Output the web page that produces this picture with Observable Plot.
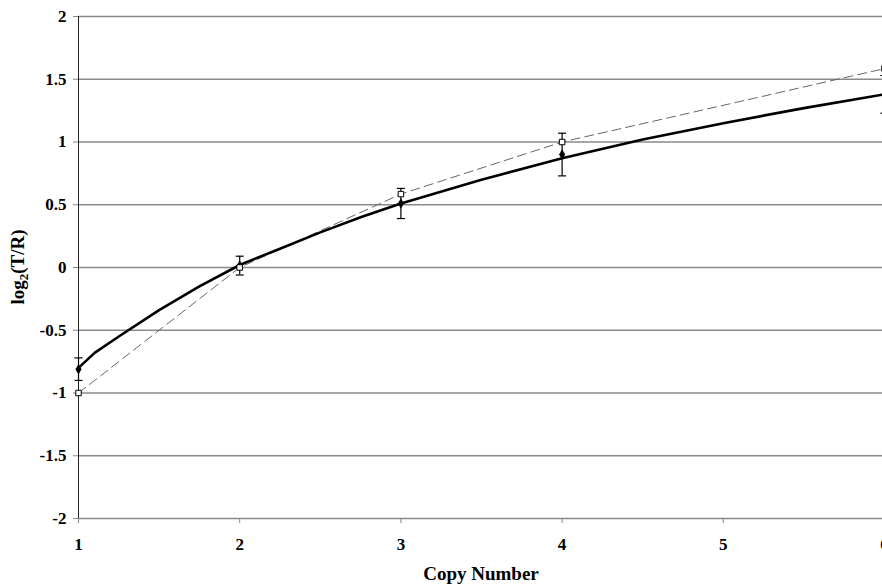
<!DOCTYPE html>
<html><head><meta charset="utf-8">
<script src="https://cdn.jsdelivr.net/npm/d3@7"></script>
<script src="https://cdn.jsdelivr.net/npm/@observablehq/plot@0.6"></script>
<style>
html,body{margin:0;padding:0;background:#fff;overflow:hidden}
svg{overflow:hidden}
</style>
</head><body><div id="chart"></div>
<script>
// Measured copy numbers
const copyNumbers = [1, 2, 3, 4, 6];
// Measured log2(T/R) (filled diamonds) and their error (± half-range)
const measured = [-0.81, 0.015, 0.51, 0.90, 1.38];
const measuredErr = [0.09, 0.075, 0.12, 0.17, 0.15];
// Theoretical log2(copy/2) (open squares, dashed line)
const theoretical = [-1, 0, 0.585, 1, 1.585];
// Fitted curve (thick solid line)
const fitX = [1, 1.1, 1.25, 1.5, 1.75, 2, 2.25, 2.5, 2.75, 3, 3.5, 4, 4.5, 5, 5.5, 6];
const fitY = [-0.80, -0.68, -0.55, -0.34, -0.15, 0.02, 0.15, 0.28, 0.40, 0.51, 0.70, 0.87, 1.02, 1.15, 1.27, 1.38];
const xTicks = [1, 2, 3, 4, 5, 6];
const yTicks = [-2, -1.5, -1, -0.5, 0, 0.5, 1, 1.5, 2];

const pts = copyNumbers.map((c, i) => ({x: c, m: measured[i], e: measuredErr[i], t: theoretical[i]}));
const fit = fitX.map((x, i) => ({x, y: fitY[i]}));

const cap = {draw(ctx, size) { ctx.moveTo(-4, 0); ctx.lineTo(4, 0); }};

const W = 882, H = 586;
const plot = Plot.plot({
  width: W, height: H,
  marginLeft: 78, marginRight: -2, marginTop: 16, marginBottom: 68,
  style: {fontFamily: "'Liberation Serif', 'Times New Roman', serif", fontSize: "17px", fontWeight: "bold", color: "black", background: "white"},
  x: {domain: [1, 6], label: null},
  y: {domain: [-2, 2], label: null},
  marks: [
    Plot.ruleY(yTicks, {stroke: "#8a8a8a", strokeWidth: 1.3}),
    Plot.ruleX([1], {stroke: "#222", strokeWidth: 1}),
    Plot.axisX({ticks: xTicks, tickSize: 5, tickPadding: 14, stroke: "#888", fill: "black", fontSize: 17, fontWeight: "bold", tickFormat: d => String(d), label: null}),
    Plot.axisY({ticks: yTicks, tickSize: 5, tickPadding: 7, stroke: "#888", fill: "black", fontSize: 17, fontWeight: "bold", tickFormat: d => String(d), label: null}),
    Plot.line(pts, {x: "x", y: "t", stroke: "#666", strokeWidth: 1, strokeDasharray: "9,5"}),
    Plot.line(fit, {x: "x", y: "y", stroke: "black", strokeWidth: 2.6}),
    Plot.ruleX(pts, {x: "x", y1: d => d.m - d.e, y2: d => d.m + d.e, stroke: "black", strokeWidth: 1.2}),
    Plot.dot(pts, {x: "x", y: d => d.m - d.e, symbol: cap, stroke: "black", strokeWidth: 1.2, fill: "none"}),
    Plot.dot(pts, {x: "x", y: d => d.m + d.e, symbol: cap, stroke: "black", strokeWidth: 1.2, fill: "none"}),
    Plot.dot(pts, {x: "x", y: "m", symbol: "diamond", r: 3.2, fill: "black", stroke: "none"}),
    Plot.dot(pts, {x: "x", y: "t", symbol: "square", r: 3.1, fill: "white", stroke: "black", strokeWidth: 1})
  ]
});

const svg = d3.select(plot);
svg.append("text")
  .attr("x", 481).attr("y", 580)
  .attr("text-anchor", "middle")
  .attr("font-size", 19).attr("font-weight", "bold").attr("fill", "black")
  .text("Copy Number");
const yl = svg.append("text")
  .attr("transform", "translate(24,267) rotate(-90)")
  .attr("text-anchor", "middle")
  .attr("font-size", 19).attr("font-weight", "bold").attr("fill", "black");
yl.append("tspan").text("log");
yl.append("tspan").attr("font-size", 13).attr("dy", 4).text("2");
yl.append("tspan").attr("dy", -4).text("(T/R)");

document.getElementById("chart").appendChild(plot);
</script>
</body></html>
